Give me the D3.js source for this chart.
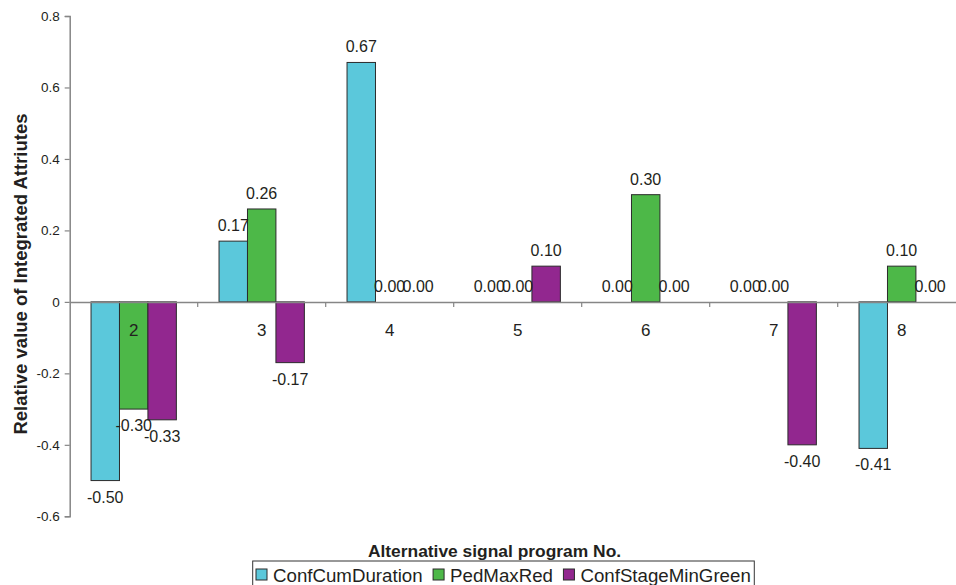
<!DOCTYPE html>
<html>
<head>
<meta charset="utf-8">
<script src="https://cdn.jsdelivr.net/npm/d3@7"></script>
<style>
  html, body { margin: 0; padding: 0; background: #fff; }
  svg { display: block; font-family: "Liberation Sans", Arial, sans-serif; }
</style>
</head>
<body>
<svg id="chart" width="956" height="585"></svg>
<script>
// Alternative signal programs and the three integrated attributes
const programs = ["2", "3", "4", "5", "6", "7", "8"];
const seriesNames = ["ConfCumDuration", "PedMaxRed", "ConfStageMinGreen"];
const confCumDuration   = [-0.50, 0.17, 0.67, 0.00, 0.00, 0.00, -0.41];
const pedMaxRed         = [-0.30, 0.26, 0.00, 0.00, 0.30, 0.00, 0.10];
const confStageMinGreen = [-0.33, -0.17, 0.00, 0.10, 0.00, -0.40, 0.00];
const yTicks = [-0.6, -0.4, -0.2, 0, 0.2, 0.4, 0.6, 0.8];
const colors = ["#5BC8DB", "#4DB848", "#92278F"];

const seriesValues = [confCumDuration, pedMaxRed, confStageMinGreen];
const rows = programs.map((p, i) => ({
  program: p,
  values: seriesNames.map((s, k) => ({ series: s, k, value: seriesValues[k][i] }))
}));

// plain hyphen-minus for negative numbers
const hy = f => v => f(v).replace("\u2212", "-");
const fmt1 = hy(d3.format(".1f"));
const fmt2 = hy(d3.format(".2f"));

const svg = d3.select("#chart");
const plot = { left: 69.7, right: 965.7, top: 16, bottom: 516.3 };
const axisColor = "#868686";
const textColor = "#231f20";

const x = d3.scaleBand().domain(programs).range([plot.left, plot.right]).paddingInner(0).paddingOuter(0);
const xs = d3.scaleBand().domain(seriesNames).range([0, x.bandwidth()]).paddingInner(0).paddingOuter(0.75);
const y = d3.scaleLinear().domain([-0.6, 0.8]).range([plot.bottom, plot.top]);

// Y axis
const yAxis = svg.append("g")
  .attr("transform", `translate(${plot.left},0)`)
  .call(d3.axisLeft(y).tickValues(yTicks).tickSize(5).tickPadding(5)
    .tickFormat(d => d === 0 ? "0" : fmt1(d)));
yAxis.select(".domain").attr("stroke", axisColor).attr("stroke-width", 1.5);
yAxis.selectAll(".tick line").attr("stroke", axisColor).attr("stroke-width", 1.2);
yAxis.selectAll(".tick text").attr("fill", textColor).attr("font-size", "13.5px")
  .attr("font-family", "Liberation Sans, Arial, sans-serif");

// Bars
const groups = svg.append("g").selectAll("g").data(rows).join("g")
  .attr("transform", d => `translate(${x(d.program)},0)`);

groups.selectAll("rect").data(d => d.values).join("rect")
  .attr("x", d => xs(d.series))
  .attr("width", xs.bandwidth())
  .attr("y", d => y(Math.max(0, d.value)))
  .attr("height", d => Math.abs(y(d.value) - y(0)))
  .attr("fill", d => colors[d.k])
  .attr("stroke", "#2b2b2b")
  .attr("stroke-width", 1);

// Zero line with category separator ticks
const xAxis = svg.append("g")
  .attr("transform", `translate(0,${y(0)})`)
  .call(d3.axisBottom(x).tickSize(0).tickFormat(""));
xAxis.select(".domain").attr("stroke", axisColor).attr("stroke-width", 1.5);
xAxis.selectAll(".tick").remove();
xAxis.selectAll("line.sep").data(programs.slice(1)).join("line")
  .attr("class", "sep")
  .attr("x1", d => x(d)).attr("x2", d => x(d))
  .attr("y1", 0).attr("y2", 5)
  .attr("stroke", axisColor).attr("stroke-width", 1.2);

// Category labels below the zero line
svg.append("g").selectAll("text").data(programs).join("text")
  .attr("x", d => x(d) + x.bandwidth() / 2)
  .attr("y", y(0) + 34)
  .attr("text-anchor", "middle")
  .attr("font-size", "17px")
  .attr("fill", textColor)
  .text(d => d);

// Value labels
groups.selectAll("text.val").data(d => d.values).join("text")
  .attr("class", "val")
  .attr("x", d => xs(d.series) + xs.bandwidth() / 2)
  .attr("y", d => d.value < 0 ? y(d.value) + 22 : y(d.value) - 10)
  .attr("text-anchor", "middle")
  .attr("font-size", "16px")
  .attr("fill", textColor)
  .text(d => fmt2(d.value));

// Axis titles
svg.append("text")
  .attr("transform", "translate(26.5,274) rotate(-90)")
  .attr("text-anchor", "middle")
  .attr("font-size", "18.5px")
  .attr("font-weight", "bold")
  .attr("fill", textColor)
  .text("Relative value of Integrated Attriutes");

svg.append("text")
  .attr("x", 494.5)
  .attr("y", 556.5)
  .attr("text-anchor", "middle")
  .attr("font-size", "17.4px")
  .attr("font-weight", "bold")
  .attr("fill", textColor)
  .text("Alternative signal program No.");

// Legend
const legend = svg.append("g");
const legendBox = legend.append("rect")
  .attr("x", 252.7).attr("y", 561)
  .attr("height", 40)
  .attr("fill", "#fff")
  .attr("stroke", "#333").attr("stroke-width", 1);
let lx = 256;
seriesNames.forEach((name, k) => {
  legend.append("rect")
    .attr("x", lx).attr("y", 569)
    .attr("width", 11).attr("height", 11)
    .attr("fill", colors[k]).attr("stroke", "#2b2b2b").attr("stroke-width", 1);
  const t = legend.append("text")
    .attr("x", lx + 17).attr("y", 582)
    .attr("font-size", "18.7px")
    .attr("fill", textColor)
    .text(name);
  lx = lx + 17 + t.node().getComputedTextLength() + 10.5;
});
legendBox.attr("width", lx - 10.5 + 3.5 - 252.7);
</script>
</body>
</html>
